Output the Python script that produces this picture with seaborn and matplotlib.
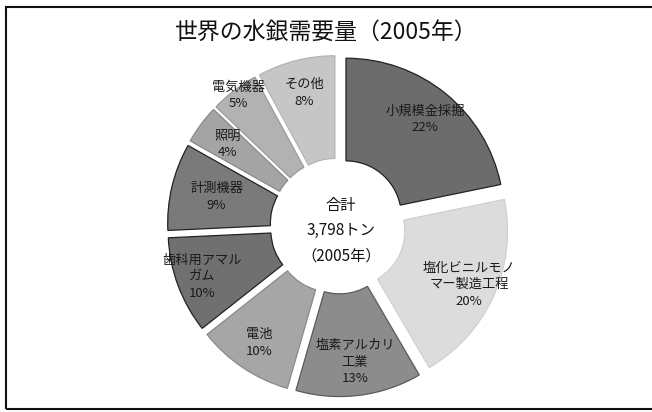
import matplotlib
matplotlib.use('Agg')
import matplotlib.pyplot as plt
import matplotlib.patches as mpatches
import numpy as np
import seaborn as sns

# 世界の水銀需要量（2005年）
categories = ['小規模金採掘', '塩化ビニルモノマー製造工程', '塩素アルカリ工業', '電池',
              '歯科用アマルガム', '計測機器', '照明', '電気機器', 'その他']
label_lines = ['小規模金採掘', '塩化ビニルモノ\nマー製造工程', '塩素アルカリ\n工業', '電池',
               '歯科用アマル\nガム', '計測機器', '照明', '電気機器', 'その他']
shares = [22, 20, 13, 10, 10, 9, 4, 5, 8]
total_text = '合計\n3,798トン\n（2005年）'

sns.set_theme(style='white')
plt.rcParams['font.family'] = ['Noto Sans CJK JP', 'DejaVu Sans']

grays = ['#6c6c6c', '#dcdcdc', '#8c8c8c', '#a6a6a6', '#707070',
         '#7a7a7a', '#a4a4a4', '#b2b2b2', '#c6c6c6']
edges = ['#222222', '#d0d0d0', '#5a5a5a', '#8a8a8a', '#222222',
         '#222222', '#8a8a8a', '#9a9a9a', '#b4b4b4']

# radial position of each label (fraction of outer radius)
label_r = {'塩化ビニルモノマー製造工程': 0.83, '歯科用アマルガム': 0.84, '電池': 0.81,
           '計測機器': 0.71, '電気機器': 0.96}

fig = plt.figure(figsize=(6.52, 4.12), dpi=100)
ax = fig.add_axes([0, 0, 1, 1])

wedges, _ = ax.pie(shares, startangle=90, counterclock=False, radius=1.0,
                   colors=grays, explode=[0.08] * len(shares),
                   wedgeprops=dict(width=0.65, linewidth=0.9))
for w, ec in zip(wedges, edges):
    w.set_edgecolor(ec)

for w, cat, name, pct in zip(wedges, categories, label_lines, shares):
    mid = np.deg2rad((w.theta1 + w.theta2) / 2)
    cx, cy = w.center
    r = label_r.get(cat, 0.79)
    ax.text(cx + r * np.cos(mid), cy + r * np.sin(mid), f'{name}\n{pct}%',
            ha='center', va='center', fontsize=9.5, color='#1a1a1a',
            linespacing=1.35)

ax.text(0.02, -0.03, total_text, ha='center', va='center', fontsize=11,
        color='#111111', linespacing=1.6)

# 1 data unit = 158 px, pie centre at (338, 226) px
ax.set_xlim(-338 / 158, (652 - 338) / 158)
ax.set_ylim(-(412 - 226) / 158, 226 / 158)
ax.axis('off')

fig.text(0.5, 0.922, '世界の水銀需要量（2005年）', ha='center', va='center',
         fontsize=16.5, color='#111111')

frame = mpatches.Rectangle((5.5 / 652, 3.5 / 412), 700 / 652, 402 / 412,
                           transform=fig.transFigure, fill=False,
                           edgecolor='#111111', linewidth=1.5)
fig.patches.append(frame)

fig.savefig('out.png', dpi=100)
